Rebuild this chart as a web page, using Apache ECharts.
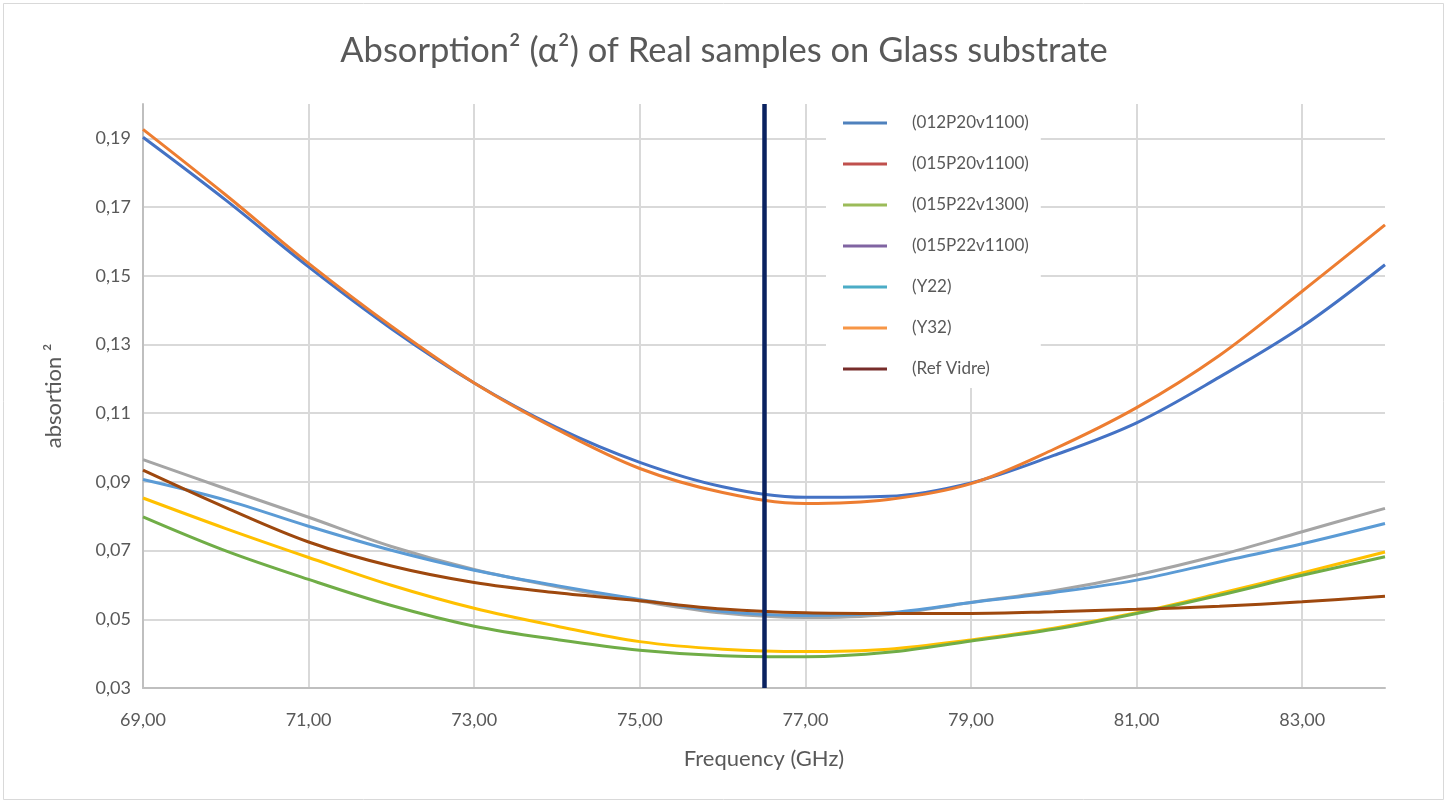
<!DOCTYPE html>
<html>
<head>
<meta charset="utf-8">
<title>Absorption² (α²) of Real samples on Glass substrate</title>
<script src="https://cdn.jsdelivr.net/npm/echarts@6/dist/echarts.min.js"></script>
<style>
  html, body { margin: 0; padding: 0; background: #ffffff; }
  #chart { width: 1448px; height: 803px; }
</style>
</head>
<body>
<div id="chart"></div>
<script>
// Frequency samples (GHz)
const freq = [69, 70, 71, 72, 73, 74, 75, 76, 77, 78, 79, 80, 81, 82, 83, 84];

// absorption² per sample
const s012P20v1100 = [0.1903, 0.1720, 0.1526, 0.1346, 0.1188, 0.1058, 0.0957, 0.0886, 0.0855, 0.0858, 0.0897, 0.0977, 0.1072, 0.1205, 0.1352, 0.1532];
const s015P20v1100 = [0.1926, 0.1735, 0.1536, 0.1353, 0.1188, 0.1053, 0.0939, 0.0869, 0.0837, 0.0849, 0.0895, 0.0995, 0.1116, 0.1268, 0.1455, 0.1648];
const s015P22v1300 = [0.0965, 0.0880, 0.0797, 0.0712, 0.0645, 0.0595, 0.0553, 0.0518, 0.0505, 0.0514, 0.0549, 0.0583, 0.0629, 0.0687, 0.0755, 0.0823];
const s015P22v1100 = [0.0853, 0.0764, 0.0680, 0.0599, 0.0532, 0.0480, 0.0435, 0.0413, 0.0406, 0.0413, 0.0440, 0.0474, 0.0519, 0.0575, 0.0635, 0.0696];
const sY22 = [0.0907, 0.0847, 0.0771, 0.0701, 0.0643, 0.0598, 0.0558, 0.0523, 0.0511, 0.0519, 0.0549, 0.0578, 0.0614, 0.0667, 0.0720, 0.0779];
const sY32 = [0.0798, 0.0699, 0.0616, 0.0540, 0.0480, 0.0441, 0.0410, 0.0394, 0.0391, 0.0404, 0.0437, 0.0471, 0.0517, 0.0570, 0.0628, 0.0682];
const sRefVidre = [0.0934, 0.0825, 0.0725, 0.0655, 0.0607, 0.0577, 0.0554, 0.0530, 0.0519, 0.0517, 0.0517, 0.0522, 0.0529, 0.0538, 0.0551, 0.0567];

// Operating frequency marker (GHz)
const markerFreq = 76.5;

const seriesNames = ['(012P20v1100)', '(015P20v1100)', '(015P22v1300)', '(015P22v1100)', '(Y22)', '(Y32)', '(Ref Vidre)'];
const seriesValues = [s012P20v1100, s015P20v1100, s015P22v1300, s015P22v1100, sY22, sY32, sRefVidre];
const lineColors = ['#4472C4', '#ED7D31', '#A5A5A5', '#FFC000', '#5B9BD5', '#70AD47', '#9E480E'];
const legendColors = ['#4F81BD', '#C0504D', '#9BBB59', '#8064A2', '#4BACC6', '#F79646', '#772C2A'];

const textColor = '#595959';
const font = 'Lato, "Open Sans", sans-serif';
const comma = (v) => v.toFixed(2).replace('.', ',');

const series = seriesNames.map((name, i) => {
  const s = {
    name: name,
    type: 'line',
    data: freq.map((f, k) => [f, seriesValues[i][k]]),
    smooth: 0.35,
    symbol: 'none',
    lineStyle: { color: lineColors[i], width: 3 },
    itemStyle: { color: lineColors[i] },
    emphasis: { disabled: true }
  };
  if (i === seriesNames.length - 1) {
    s.markLine = {
      silent: true,
      symbol: ['none', 'none'],
      label: { show: false },
      lineStyle: { color: '#0A2260', width: 4.5, type: 'solid' },
      data: [{ xAxis: markerFreq }],
      z: 10
    };
  }
  return s;
});

const chart = echarts.init(document.getElementById('chart'), null, { renderer: 'canvas' });
chart.setOption({
  animation: false,
  backgroundColor: '#ffffff',
  textStyle: { fontFamily: font },
  title: {
    text: 'Absorption² (α²) of Real samples on Glass substrate',
    left: 'center',
    top: 28,
    textStyle: { fontFamily: font, fontSize: 34.5, fontWeight: 'normal', color: textColor }
  },
  grid: { left: 143, right: 63, top: 104, bottom: 115 },
  legend: {
    orient: 'vertical',
    left: 826,
    top: 100,
    padding: [14, 12, 10, 17],
    backgroundColor: '#ffffff',
    icon: 'rect',
    itemWidth: 44,
    itemHeight: 3,
    itemGap: 23,
    selectedMode: false,
    textStyle: { fontFamily: font, fontSize: 17, color: textColor, lineHeight: 18, padding: [0, 0, 0, 20] },
    data: seriesNames.map((name, i) => ({ name: name, itemStyle: { color: legendColors[i] } }))
  },
  xAxis: {
    type: 'value',
    min: 69,
    max: 84,
    interval: 2,
    name: 'Frequency (GHz)',
    nameLocation: 'middle',
    nameGap: 60,
    nameTextStyle: { fontFamily: font, fontSize: 22, color: textColor },
    axisLine: { show: true, lineStyle: { color: '#BFBFBF', width: 2 } },
    axisTick: { show: false },
    axisLabel: { formatter: comma, fontSize: 18, color: textColor, margin: 23, showMaxLabel: false },
    splitLine: { show: true, showMaxLine: false, lineStyle: { color: '#D9D9D9', width: 2 } }
  },
  yAxis: {
    type: 'value',
    min: 0.03,
    max: 0.2,
    interval: 0.02,
    name: 'absortion ²',
    nameLocation: 'middle',
    nameGap: 78,
    nameTextStyle: { fontFamily: font, fontSize: 22, color: textColor },
    axisLine: { show: true, lineStyle: { color: '#BFBFBF', width: 2 } },
    axisTick: { show: false },
    axisLabel: { formatter: comma, fontSize: 18, color: textColor, margin: 12, showMaxLabel: false },
    splitLine: { show: true, showMinLine: false, showMaxLine: false, lineStyle: { color: '#D9D9D9', width: 2 } }
  },
  graphic: [{
    type: 'rect',
    silent: true,
    shape: { x: 3.5, y: 3.5, width: 1440, height: 796 },
    style: { fill: 'none', stroke: '#D9D9D9', lineWidth: 1 }
  }],
  series: series
});
</script>
</body>
</html>
